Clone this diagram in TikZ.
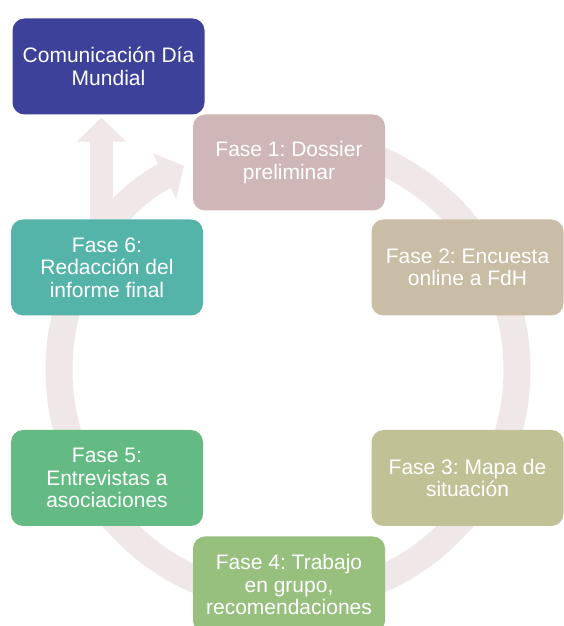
\documentclass[tikz,border=0pt]{standalone}
\usepackage{fontspec}
\setmainfont{Liberation Sans}
\usetikzlibrary{arrows.meta}

\definecolor{comblue}{RGB}{61,65,153}
\definecolor{faseone}{RGB}{206,183,182}
\definecolor{fasetwo}{RGB}{202,189,165}
\definecolor{fasethree}{RGB}{192,194,150}
\definecolor{fasefour}{RGB}{151,192,127}
\definecolor{fasefive}{RGB}{99,187,131}
\definecolor{fasesix}{RGB}{84,180,170}
\definecolor{ringpink}{RGB}{239,231,232}

\begin{document}
\begin{tikzpicture}[x=1pt,y=1pt,
  phase/.style={rounded corners=12pt,minimum width=192pt,minimum height=96pt,
    inner sep=0pt,align=center,text=white,
    font=\fontsize{21}{22.5}\selectfont\frenchspacing},
  band/.style={draw=ringpink,line width=27pt}]
\useasboundingbox (0,0) rectangle (563,626);

% Circular arrow behind the phases
\coordinate (hub) at (288,256);
\draw[band,-{Triangle[length=22pt,width=50pt]}]
  (hub) ++(90:229) arc[start angle=90,end angle=-243,radius=229];

% Phases
\node[phase,fill=comblue] (com) at (108.5,559.5) {Comunicación Día\\Mundial};
\node[phase,fill=faseone] (f1) at (289,463.5) {Fase 1: Dossier\\preliminar};
\node[phase,fill=fasetwo] (f2) at (467.5,358.5) {Fase 2: Encuesta\\online a FdH};
\node[phase,fill=fasethree] (f3) at (467.5,148) {Fase 3: Mapa de\\situación};
\node[phase,fill=fasefour] (f4) at (289,41.5) {Fase 4: Trabajo\\en grupo,\\recomendaciones};
\node[phase,fill=fasefive] (f5) at (107,148) {Fase 5:\\Entrevistas a\\asociaciones};

% Branch up to the communication box
\coordinate (fork) at (101.5,395);
\draw[band,line width=23pt,-{Triangle[length=24pt,width=48pt]},shorten >=3pt]
  (fork) -- (fork |- com.south);

\node[phase,fill=fasesix] (f6) at (107,358.5) {Fase 6:\\Redacción del\\informe final};
\end{tikzpicture}
\end{document}
